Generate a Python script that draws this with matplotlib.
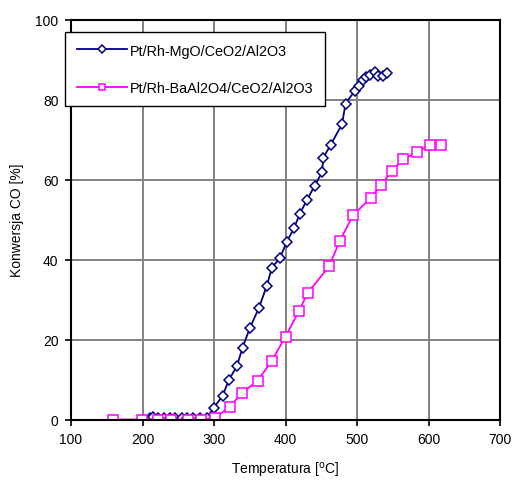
import matplotlib.pyplot as plt

plt.rcParams['font.family'] = ['Liberation Sans', 'DejaVu Sans']

# Pt/Rh-MgO/CeO2/Al2O3
tempMg = [210, 215, 222, 230, 238, 246, 255, 262, 270, 280, 290,
          300, 312, 321, 332, 340, 350, 363, 374, 381, 392, 402, 412,
          420, 430, 441, 451, 453, 463, 479, 484, 497, 503, 509, 513,
          518, 525, 530, 536, 542]
convMg = [0.5, 0.6, 0.4, 0.5, 0.5, 0.4, 0.5, 0.4, 0.5, 0.4, 0.5,
          3.0, 5.9, 10.0, 13.3, 18.0, 22.8, 28.0, 33.5, 38.0, 40.3, 44.5, 47.9,
          51.4, 54.9, 58.5, 61.8, 65.5, 68.6, 73.8, 79.0, 82.2, 83.4, 84.9, 85.7,
          86.1, 86.8, 86.0, 85.9, 86.6]

# Pt/Rh-BaAl2O4/CeO2/Al2O3
tempBa = [159, 199, 221, 240, 263, 282, 302, 322, 339, 361, 381, 400,
          419, 431, 461, 476, 495, 520, 534, 549, 565, 584, 602, 618]
convBa = [0, 0, 0, 0, 0, 0, 0.4, 3.2, 6.6, 9.7, 14.7, 20.7,
          27.2, 31.6, 38.3, 44.7, 51.2, 55.5, 58.7, 62.2, 65.1, 66.8, 68.7, 68.7]

fig = plt.figure(figsize=(5.15, 4.81), dpi=100)
ax = fig.add_axes([71/515, 1 - 420.5/481, 429/515, 400/481])

ax.plot(tempMg, convMg, color='#000080', linewidth=1.3, marker='D', markersize=5.5,
        markerfacecolor='white', markeredgecolor='#000080', markeredgewidth=1.1,
        label='Pt/Rh-MgO/CeO2/Al2O3')
ax.plot(tempBa, convBa, color='#ff00ff', linewidth=1.3, marker='s', markersize=7.5,
        markerfacecolor='white', markeredgecolor='#ff00ff', markeredgewidth=1.1,
        label='Pt/Rh-BaAl2O4/CeO2/Al2O3')

ax.set_xlim(100, 700)
ax.set_ylim(0, 100)
ax.set_xticks(range(100, 701, 100))
ax.set_yticks(range(0, 101, 20))
ax.grid(True, color='#808080', linewidth=1.4)
ax.set_axisbelow(True)
for s in ax.spines.values():
    s.set_linewidth(1.5)
ax.tick_params(direction='out', length=4, width=1.2, labelsize=10, pad=5)

ax.set_xlabel('Temperatura [$^{\\mathrm{o}}$C]', fontsize=10, labelpad=10)
ax.set_ylabel('Konwersja CO [%]', fontsize=10, labelpad=8)

leg = ax.legend(loc='upper left', bbox_to_anchor=(65/515, 1 - 33/481),
                bbox_transform=fig.transFigure, fontsize=10.4, fancybox=False,
                edgecolor='black', framealpha=1, numpoints=1, handlelength=3.5,
                handletextpad=0.2, labelspacing=1.6, borderpad=0.8, borderaxespad=0)
leg.get_frame().set_linewidth(1.0)
for h in leg.legend_handles:
    h.set_markersize(4.5)

fig.savefig('out.png', dpi=100)
